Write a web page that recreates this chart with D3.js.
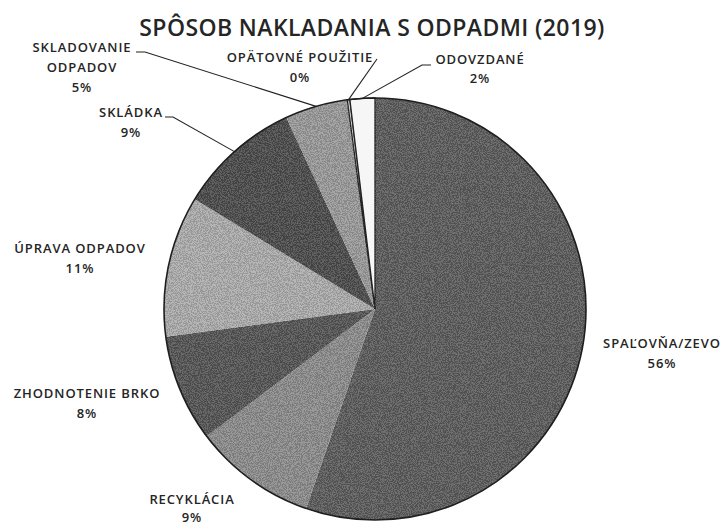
<!DOCTYPE html>
<html>
<head>
<meta charset="utf-8">
<script src="https://cdn.jsdelivr.net/npm/d3@7"></script>
<style>
  body { margin: 0; background: #fff; }
  svg { display: block; }
  text { font-family: "Open Sans", sans-serif; fill: #252525; }
</style>
</head>
<body>
<svg id="chart" width="726" height="529"></svg>
<script>
// slices, clockwise from 12 o'clock
const categories = ["SPAĽOVŇA/ZEVO", "RECYKLÁCIA", "ZHODNOTENIE BRKO", "ÚPRAVA ODPADOV",
   "SKLÁDKA", "SKLADOVANIE ODPADOV", "OPÄTOVNÉ POUŽITIE", "ODOVZDANÉ"];
const values = [55.3, 9.4, 8.2, 10.8, 9.4, 4.8, 0.2, 1.9];
const pctLabels = ["56%", "9%", "8%", "11%", "9%", "5%", "0%", "2%"];
const title = "SPÔSOB NAKLADANIA S ODPADMI (2019)";

// how each label is wrapped, and where it sits (layout only)
const labelLines = [
   ["SPAĽOVŇA/ZEVO"], ["RECYKLÁCIA"], ["ZHODNOTENIE BRKO"], ["ÚPRAVA ODPADOV"],
   ["SKLÁDKA"], ["SKLADOVANIE", "ODPADOV"], ["OPÄTOVNÉ POUŽITIE"], ["ODOVZDANÉ"]
];
const labelAt = [[662, 348], [192, 504], [87, 398], [80, 253], [131, 117], [82, 52], [300, 62], [480, 64]];
const lineGap = [20, 18, 20, 20, 20, 20, 20, 19];
// leader start points + short horizontal tick length (null = no leader)
const leaderFrom = [null, null, null, null, [165, 117, 8], [136, 52, 9], [377, 59, 0], [431, 65, -9]];

const fills = ["#5c5c5c", "#8c8c8c", "#555555", "#acacac", "#4c4c4c", "#9a9a9a", "#d0d0d0", "#f6f6f6"];

const svg = d3.select("#chart");
const cx = 375, cy = 309, r = 211;

// scanner grain
const defs = svg.append("defs");
const f = defs.append("filter").attr("id", "grain")
   .attr("x", 0).attr("y", 0).attr("width", 1).attr("height", 1);
f.append("feTurbulence").attr("type", "fractalNoise")
   .attr("baseFrequency", 0.9).attr("numOctaves", 1).attr("seed", 4).attr("result", "n");
f.append("feColorMatrix").attr("in", "n").attr("type", "saturate").attr("values", 0).attr("result", "g");
const ct = f.append("feComponentTransfer").attr("in", "g").attr("result", "bw");
["feFuncR", "feFuncG", "feFuncB"].forEach(fn =>
   ct.append(fn).attr("type", "discrete").attr("tableValues", "0 1"));
f.append("feComposite").attr("in", "bw").attr("in2", "SourceGraphic").attr("operator", "in");

svg.append("text")
   .attr("x", 372).attr("y", 36)
   .attr("text-anchor", "middle")
   .style("font-size", "23px")
   .style("font-weight", 600)
   .style("letter-spacing", "0.4px")
   .text(title);

const pie = d3.pie().sort(null).value(d => d);
const arcs = pie(values);
const arc = d3.arc().innerRadius(0).outerRadius(r);
const edge = d3.arc().innerRadius(r).outerRadius(r);

const g = svg.append("g").attr("transform", `translate(${cx},${cy})`);

g.selectAll("path.slice")
   .data(arcs)
   .join("path")
   .attr("class", "slice")
   .attr("d", arc)
   .attr("fill", (d, i) => fills[i])
   .attr("stroke", (d, i) => i >= 6 ? "#222" : "none")
   .attr("stroke-width", 1.3);

// grain over the coloured slices only
g.selectAll("path.grain")
   .data(arcs.slice(0, 6))
   .join("path")
   .attr("class", "grain")
   .attr("d", arc)
   .attr("fill", "#000")
   .attr("filter", "url(#grain)")
   .attr("opacity", 0.2);

g.append("circle")
   .attr("r", r)
   .attr("fill", "none")
   .attr("stroke", "#1e1e1e")
   .attr("stroke-width", 1.6);

// leader lines
arcs.forEach((d, i) => {
   const from = leaderFrom[i];
   if (!from) return;
   const [ex, ey] = edge.centroid(d);
   const pts = [[from[0], from[1]]];
   if (from[2]) pts.push([from[0] + from[2], from[1]]);
   pts.push([ex + cx, ey + cy]);
   svg.append("polyline")
      .attr("points", pts.map(p => p.join(",")).join(" "))
      .attr("fill", "none")
      .attr("stroke", "#222")
      .attr("stroke-width", 1.1);
});

// labels
categories.forEach((c, i) => {
   const lines = labelLines[i].concat([pctLabels[i]]);
   const t = svg.append("text")
      .attr("x", labelAt[i][0]).attr("y", labelAt[i][1])
      .attr("text-anchor", "middle")
      .style("font-size", "13px")
      .style("font-weight", 600)
      .style("letter-spacing", "0.9px");
   lines.forEach((ln, k) => {
      t.append("tspan")
         .attr("x", labelAt[i][0])
         .attr("dy", k === 0 ? 0 : lineGap[i])
         .text(ln);
   });
});
</script>
</body>
</html>
